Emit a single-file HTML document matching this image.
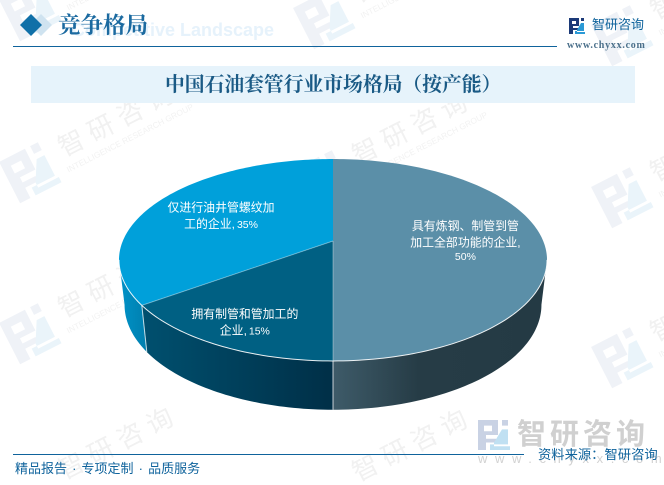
<!DOCTYPE html>
<html lang="zh">
<head>
<meta charset="utf-8">
<title>竞争格局</title>
<style>
html,body{margin:0;padding:0;background:#fff;overflow:hidden}
#page{position:relative;width:664px;height:485px;overflow:hidden;background:#fff;font-family:"Liberation Sans","Noto Sans CJK SC",sans-serif}
#page>*{position:absolute}
.wq{font-family:"Liberation Sans","WenQuanYi Zen Hei","Noto Sans CJK SC",sans-serif}
.serif{font-family:"Liberation Serif","Noto Serif CJK SC",serif}
</style>
</head>
<body>
<div id="page">
<svg id="wm" width="664" height="485" style="left:0;top:0">
<defs>
<g id="wm-logo">
<g transform="translate(-23,-23) scale(2.9)">
<path d="M0,0 H10 V8 H4 V10 H9 V12 H4 V16 H0 Z M3,3 V6 H7 V3 Z" fill="#eff2f7" fill-rule="evenodd"/>
<path d="M12,0 H15 V3 H12 Z" fill="#eff2f7"/>
<path d="M12,5 H15 V13 H6 V16 H16 V14 H8 V12 Z" fill="#eaf4fa"/>
</g>
</g>
<text id="wm-name" x="37" y="2" font-size="26" letter-spacing="7" fill="#f1f1f1" font-family="'Liberation Sans','Noto Sans CJK SC',sans-serif">智研咨询</text>
<text id="wm-sub" x="34" y="18" font-size="8.3" fill="#f2f2f2" font-family="'Liberation Sans',sans-serif">INTELLIGENCE RESEARCH GROUP</text>
<g id="wm-tile"><use href="#wm-logo"/><use href="#wm-name"/><use href="#wm-sub"/></g>
</defs>
<use href="#wm-tile" transform="translate(30,10) rotate(-27)"/>
<use href="#wm-tile" transform="translate(30,172) rotate(-27)"/>
<use href="#wm-tile" transform="translate(30,333) rotate(-27)"/>
<use href="#wm-name" transform="translate(30,495) rotate(-27)"/>
<use href="#wm-tile" transform="translate(324,18) rotate(-27)"/>
<use href="#wm-tile" transform="translate(324,180) rotate(-27)"/>
<use href="#wm-tile" transform="translate(324,342) rotate(-27)"/>
<use href="#wm-name" transform="translate(324,497) rotate(-27)"/>
<use href="#wm-tile" transform="translate(622,35) rotate(-27)"/>
<use href="#wm-tile" transform="translate(622,197) rotate(-27)"/>
<use href="#wm-tile" transform="translate(622,357) rotate(-27)"/>
</svg>

<div style="left:72px;top:19px;font-size:18px;line-height:22px;font-weight:700;color:#e6f2fb;white-space:nowrap">Competitive Landscape</div>
<svg width="60" height="40" style="left:15px;top:5px">
<path d="M26,9 L37,20 L26,31 L15,20 Z" fill="#cfe3f0"/>
<path d="M16,9 L27,20 L16,31 L5,20 Z" fill="#1070a8"/>
</svg>
<div class="serif" style="left:58px;top:12px;font-size:22.5px;line-height:28px;font-weight:700;color:#1b6aa0;white-space:nowrap">竞争格局</div>
<div style="left:13px;top:46px;width:544px;height:1px;background:#0f639c"></div>

<svg width="16" height="16" viewBox="0 0 16 16" style="left:569px;top:18px">
<path d="M0,0 H10 V8 H4 V10 H9 V12 H4 V16 H0 Z M3,3 V6 H7 V3 Z" fill="#1c3a78" fill-rule="evenodd"/>
<path d="M12,0 H15 V3 H12 Z" fill="#1c3a78"/>
<path d="M12,5 H15 V13 H6 V16 H16 V14 H8 V12 Z" fill="#2b9ad6"/>
</svg>
<div class="wq" style="left:592px;top:16px;font-size:13px;line-height:18px;color:#0f639c;white-space:nowrap">智研咨询</div>
<div class="serif" style="left:567px;top:40px;font-size:10px;line-height:12px;font-weight:700;letter-spacing:.75px;color:#4a6f8a;white-space:nowrap">www.chyxx.com</div>

<div style="left:31px;top:66px;width:604px;height:37px;background:#e6f3fb"></div>
<div class="serif" style="left:165px;top:72px;font-size:19.8px;line-height:26px;font-weight:700;color:#1a5a85;white-space:nowrap">中国石油套管行业市场格局（按产能）</div>

<svg id="chart" width="664" height="485" style="left:0;top:0"></svg>

<svg width="32" height="30" viewBox="0 0 16 16" preserveAspectRatio="none" style="left:478px;top:420px">
<path d="M0,0 H10 V8 H4 V10 H9 V12 H4 V16 H0 Z M3,3 V6 H7 V3 Z" fill="#c9d2e4" fill-rule="evenodd"/>
<path d="M12,0 H15 V3 H12 Z" fill="#c9d2e4"/>
<path d="M12,5 H15 V13 H6 V16 H16 V14 H8 V12 Z" fill="#c0e0f2"/>
</svg>
<div class="wq" style="left:517px;top:417px;font-size:29px;line-height:36px;font-weight:700;color:#d0d0d0;letter-spacing:4px;white-space:nowrap">智研咨询</div>
<div style="left:478px;top:451px;font-size:13px;line-height:15px;color:#d2d2d2;letter-spacing:7.6px;white-space:nowrap">www.chyxx.com</div>

<div style="left:13px;top:454px;width:511px;height:1px;background:#0f639c"></div>
<div class="wq" style="left:15px;top:460px;font-size:13px;line-height:18px;color:#0f639c;white-space:pre;word-spacing:1.5px">精品报告 · 专项定制 · 品质服务</div>
<div class="wq" style="left:538px;top:446px;font-size:13.3px;line-height:18px;color:#0f639c;white-space:nowrap">资料来源：智研咨询</div>
</div>

<script>
const categories = ["具有炼钢、制管到管加工全部功能的企业", "拥有制管和管加工的企业", "仅进行油井管螺纹加工的企业"];
const shareValues = [50, 15, 35];
const labelLines = [["具有炼钢、制管到管", "加工全部功能的企业,"], ["拥有制管和管加工的", "企业,"], ["仅进行油井管螺纹加", "工的企业,"]];

const NS = "http://www.w3.org/2000/svg";
const svg = document.getElementById("chart");
const total = shareValues.reduce((a, b) => a + b, 0);
const cx = 333, topY = 241, A = 210.2, B = 97.4, P = 0.188;
const lowerY = 285, lowerSX = 0.974, lowerSY = 1.04;
const visFrom = Math.PI / 180 * 100.8, visTo = Math.PI / 180 * 259.2;
const topFills = ["#5b8fa8", "#006083", "#00a0da"];
const sideStops = [
  [[0, "#3e5b69"], [0.4, "#263c46"], [1, "#243a44"]],
  [[0, "#00506f"], [1, "#002f47"]],
  [[0, "#0092c8"], [1, "#007fae"]]
];

function angleOf(v) { return v / total * 2 * Math.PI; }
function upper(t, r) {
  r = r === undefined ? 1 : r;
  const d = 1 + P * r * Math.cos(t);
  return [cx + A * r * Math.sin(t) / d, topY - B * r * Math.cos(t) / d];
}
function lower(t) {
  const d = 1 + P * Math.cos(t);
  return [cx + lowerSX * A * Math.sin(t) / d, lowerY - lowerSY * B * Math.cos(t) / d];
}
function arc(fn, a, b) {
  const n = Math.max(2, Math.ceil(Math.abs(b - a) / 0.02));
  const pts = [];
  for (let i = 0; i <= n; i++) pts.push(fn(a + (b - a) * i / n));
  return pts;
}
function toPath(pts) {
  return "M" + pts.map(p => p[0].toFixed(2) + "," + p[1].toFixed(2)).join(" L");
}
function make(tag, attrs) {
  const el = document.createElementNS(NS, tag);
  for (const k in attrs) el.setAttribute(k, attrs[k]);
  return el;
}

const defs = make("defs", {});
svg.appendChild(defs);
const sideLayer = make("g", {});
const topLayer = make("g", {});
const rimLayer = make("g", {});
const textLayer = make("g", {});
svg.appendChild(sideLayer);
svg.appendChild(topLayer);
svg.appendChild(rimLayer);
svg.appendChild(textLayer);

let running = 0;
shareValues.forEach((value, i) => {
  const a0 = angleOf(running);
  const a1 = angleOf(running + value);
  running += value;

  const s0 = Math.max(a0, visFrom);
  const s1 = Math.min(a1, visTo);
  if (s1 > s0) {
    const up = arc(t => upper(t), s0, s1);
    const low = arc(lower, s0, s1).reverse();
    const xs = up.concat(low).map(p => p[0]);
    const grad = make("linearGradient", {
      id: "side-grad-" + i, gradientUnits: "userSpaceOnUse",
      x1: Math.min(...xs), x2: Math.max(...xs), y1: 0, y2: 0
    });
    const stops = i === 0 ? [[0, "#3e5b69"], [0.4, "#263c46"], [1, "#243a44"]] : sideStops[i];
    stops.forEach(s => {
      grad.appendChild(make("stop", { offset: s[0], "stop-color": s[1] }));
    });
    defs.appendChild(grad);
    const side = make("path", { d: toPath(up.concat(low)) + " Z", fill: "url(#side-grad-" + i + ")" });
    
    
    sideLayer.appendChild(side);
    const edge = make("path", { d: toPath([upper(s0), lower(s0)]), stroke: "#ffffff", "stroke-opacity": "0.75", "stroke-width": "1", fill: "none" });
    
    
    if (s0 > visFrom) sideLayer.appendChild(edge);
  }

  const centre = upper(0, 0);
  const rim = arc(t => upper(t), a0, a1);
  const slice = make("path", { d: "M" + centre[0] + "," + centre[1] + " L" + toPath(rim).slice(1) + " Z", fill: topFills[i] });
  
  
  const tip = make("title", {});
  tip.textContent = categories[i] + " " + value + "%";
  slice.appendChild(tip);
  topLayer.appendChild(slice);

  if (i > 0) {
    const spoke = make("path", { d: toPath([centre, upper(a0)]), stroke: "#ffffff", "stroke-opacity": "0.35", "stroke-width": "1", fill: "none" });
    
    
    rimLayer.appendChild(spoke);
  }
  if (s1 > s0) {
    const rimLine = make("path", { d: toPath(arc(t => upper(t), s0, s1)), stroke: "#ffffff", "stroke-opacity": "0.9", "stroke-width": "1", fill: "none" });
    
    
    rimLayer.appendChild(rimLine);
  }

  const mid = (a0 + a1) / 2;
  const at = upper(mid, value / total < 0.2 ? 0.8 : 0.63);
  const lines = labelLines[i].slice();
  const pct = value + "%";
  const label = make("text", { "text-anchor": "middle", fill: "#ffffff", "font-size": "11.9", "font-family": "'Liberation Sans','WenQuanYi Zen Hei','Noto Sans CJK SC',sans-serif" });
  
  
  const own = i === 0;
  const rows = own ? lines.concat([pct]) : lines;
  const startY = at[1] + (own ? -11 : -3);
  let rowY = startY;
  rows.forEach((row, r) => {
    if (r > 0) rowY += own && r === 2 ? 13.5 : 16.5;
    const span = make("tspan", { x: at[0], y: rowY });
    span.textContent = row;
    label.appendChild(span);
    if (!own && r === rows.length - 1) {
      const v = make("tspan", { "font-size": "10.5", dx: "2" });
      v.textContent = pct;
      label.appendChild(v);
    }
    if (own && r === rows.length - 1) span.setAttribute("font-size", "10.5");
  });
  textLayer.appendChild(label);
});
</script>
</body>
</html>
